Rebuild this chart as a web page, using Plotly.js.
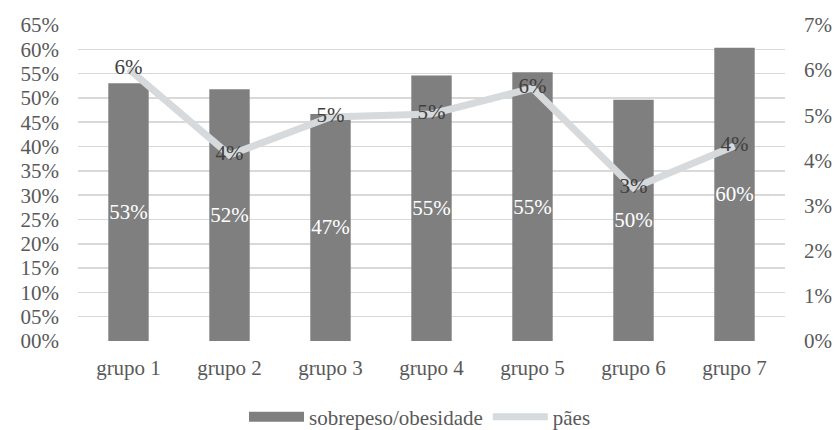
<!DOCTYPE html>
<html>
<head>
<meta charset="utf-8">
<script src="https://cdn.plot.ly/plotly-3.0.1.min.js"></script>
<style>
  html, body { margin: 0; padding: 0; background: #ffffff; }
  #chart { width: 840px; height: 430px; }
  #chart svg text { font-family: 'Liberation Serif', serif !important; }
</style>
</head>
<body>
<div id="chart"></div>
<script>
// Categories and series
const grupos = ['grupo 1', 'grupo 2', 'grupo 3', 'grupo 4', 'grupo 5', 'grupo 6', 'grupo 7'];
const sobrepeso = [0.53, 0.518, 0.467, 0.546, 0.553, 0.496, 0.603];
const paes = [0.0603, 0.0412, 0.0496, 0.0503, 0.056, 0.0339, 0.0432];

// Axis ticks
const leftTickVals = [0, 0.05, 0.10, 0.15, 0.20, 0.25, 0.30, 0.35, 0.40, 0.45, 0.50, 0.55, 0.60, 0.65];
const leftTickText = ['00%', '05%', '10%', '15%', '20%', '25%', '30%', '35%', '40%', '45%', '50%', '55%', '60%', '65%'];
const rightTickVals = [0, 0.01, 0.02, 0.03, 0.04, 0.05, 0.06, 0.07];
const rightTickText = ['0%', '1%', '2%', '3%', '4%', '5%', '6%', '7%'];

const FONT = 'Liberation Serif';
const BAR_COLOR = '#7f7f7f';
const LINE_COLOR = '#d6dadc';
const TEXT_COLOR = '#595959';
const SIZE = 21;

const traces = [
  {
    type: 'bar',
    name: 'sobrepeso/obesidade',
    x: grupos,
    y: sobrepeso,
    marker: { color: BAR_COLOR },
    text: sobrepeso.map(v => Math.round(v * 100) + '%'),
    textposition: 'inside',
    insidetextanchor: 'middle',
    constraintext: 'none',
    textangle: 0,
    textfont: { family: FONT, size: SIZE, color: '#ffffff' },
    cliponaxis: false,
    showlegend: false,
    hoverinfo: 'x+y'
  },
  {
    // legend swatch for the bar series
    type: 'scatter',
    mode: 'lines',
    name: 'sobrepeso/obesidade',
    x: [null],
    y: [null],
    line: { color: BAR_COLOR, width: 10 },
    showlegend: true,
    hoverinfo: 'skip'
  },
  {
    type: 'scatter',
    mode: 'lines+text',
    name: 'pães',
    x: grupos,
    y: paes,
    yaxis: 'y2',
    line: { color: LINE_COLOR, width: 7 },
    text: paes.map(v => Math.round(v * 100) + '%'),
    textposition: 'middle center',
    textfont: { family: FONT, size: SIZE, color: '#404040' },
    cliponaxis: false
  }
];

const layout = {
  width: 840,
  height: 430,
  paper_bgcolor: '#ffffff',
  plot_bgcolor: '#ffffff',
  margin: { l: 78, r: 55, t: 25, b: 89 },
  font: { family: FONT, size: SIZE, color: TEXT_COLOR },
  bargap: 0.6,
  xaxis: {
    showgrid: false,
    showline: false,
    zeroline: false,
    ticks: '',
    tickfont: { family: FONT, size: SIZE, color: TEXT_COLOR },
    ticklabelstandoff: 12
  },
  yaxis: {
    range: [0, 0.65],
    tickvals: leftTickVals,
    ticktext: leftTickText,
    showgrid: true,
    gridcolor: '#d9d9d9',
    gridwidth: 1.5,
    zeroline: false,
    showline: false,
    ticks: '',
    ticklabelstandoff: 18,
    tickfont: { family: FONT, size: SIZE, color: TEXT_COLOR }
  },
  yaxis2: {
    overlaying: 'y',
    side: 'right',
    range: [0, 0.07],
    tickvals: rightTickVals,
    ticktext: rightTickText,
    showgrid: false,
    zeroline: false,
    showline: false,
    ticks: '',
    ticklabelstandoff: 18,
    tickfont: { family: FONT, size: SIZE, color: TEXT_COLOR }
  },
  showlegend: true,
  legend: {
    orientation: 'h',
    xref: 'container',
    yref: 'container',
    x: 0.5,
    xanchor: 'center',
    y: 0.03,
    yanchor: 'middle',
    itemwidth: 55,
    font: { family: FONT, size: SIZE, color: TEXT_COLOR },
    bgcolor: 'rgba(0,0,0,0)'
  }
};

Plotly.newPlot('chart', traces, layout, { displayModeBar: false, staticPlot: true });
</script>
</body>
</html>
